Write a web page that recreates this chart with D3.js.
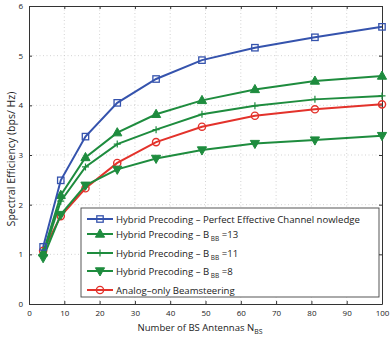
<!DOCTYPE html>
<html><head><meta charset="utf-8">
<script src="https://cdn.jsdelivr.net/npm/d3@7"></script>
<style>body{margin:0;background:#fff}svg{display:block}text{font-family:"Open Sans",sans-serif}</style>
</head><body>
<svg id="c" width="390" height="345"></svg>
<script>
const antennas = [4, 9, 16, 25, 36, 49, 64, 81, 100];
const perfectCSI = [1.15, 2.49, 3.37, 4.05, 4.53, 4.91, 5.16, 5.37, 5.58];
const bbb13 = [1.03, 2.19, 2.95, 3.45, 3.82, 4.1, 4.32, 4.49, 4.59];
const bbb11 = [0.99, 2.07, 2.76, 3.22, 3.51, 3.82, 3.99, 4.12, 4.19];
const bbb8 = [0.93, 1.8, 2.39, 2.71, 2.93, 3.1, 3.23, 3.3, 3.39];
const analogOnly = [1.07, 1.77, 2.33, 2.84, 3.26, 3.57, 3.79, 3.92, 4.02];
const xTicks = [0, 10, 20, 30, 40, 50, 60, 70, 80, 90, 100];
const yTicks = [0, 1, 2, 3, 4, 5, 6];

const series = [
  {name: "Hybrid Precoding \u2013 Perfect Effective Channel nowledge", vals: perfectCSI, color: "#3553ad", marker: "square"},
  {name: "Hybrid Precoding \u2013 B", sub: "BB", tail: " =13", vals: bbb13, color: "#1e8c3e", marker: "up"},
  {name: "Hybrid Precoding \u2013 B", sub: "BB", tail: " =11", vals: bbb11, color: "#1e8c3e", marker: "plus"},
  {name: "Hybrid Precoding \u2013 B", sub: "BB", tail: " =8", vals: bbb8, color: "#1e8c3e", marker: "down"},
  {name: "Analog\u2013only Beamsteering", vals: analogOnly, color: "#e3322b", marker: "circle"}
];

const svg = d3.select("#c");
const L = 29, R = 382, T = 6, B = 304;
const x = d3.scaleLinear().domain([0, 100]).range([L, R]);
const y = d3.scaleLinear().domain([0, 6]).range([B, T]);

// fit font size so text spans target width
function fitSize(sel, target, base) {
  const w = sel.node().getComputedTextLength();
  return base * target / w;
}

// grid
const g = svg.append("g");
g.selectAll(".gx").data(xTicks.slice(1, -1)).join("line")
  .attr("x1", d => x(d)).attr("x2", d => x(d)).attr("y1", T).attr("y2", B)
  .attr("stroke", "#c8c8c8").attr("stroke-width", 0.8).attr("stroke-dasharray", "1,2.5");
g.selectAll(".gy").data(yTicks.slice(1, -1)).join("line")
  .attr("y1", d => y(d)).attr("y2", d => y(d)).attr("x1", L).attr("x2", R)
  .attr("stroke", "#c8c8c8").attr("stroke-width", 0.8).attr("stroke-dasharray", "1,2.5");

// axes
const fmt = d3.format("d");
const ax = svg.append("g").attr("transform", `translate(0,${B})`)
  .call(d3.axisBottom(x).tickValues(xTicks).tickFormat(fmt).tickSizeInner(-3).tickSizeOuter(0).tickPadding(6));
const axT = svg.append("g").attr("transform", `translate(0,${T})`)
  .call(d3.axisTop(x).tickValues(xTicks).tickSizeInner(-3).tickSizeOuter(0).tickFormat(""));
const ay = svg.append("g").attr("transform", `translate(${L},0)`)
  .call(d3.axisLeft(y).tickValues(yTicks).tickFormat(fmt).tickSizeInner(-3).tickSizeOuter(0).tickPadding(6));
const ayR = svg.append("g").attr("transform", `translate(${R},0)`)
  .call(d3.axisRight(y).tickValues(yTicks).tickSizeInner(-3).tickSizeOuter(0).tickFormat(""));
[ax, axT, ay, ayR].forEach(a => {
  a.select(".domain").attr("stroke", "#333").attr("stroke-width", 1);
  a.selectAll(".tick line").attr("stroke", "#333");
  a.selectAll("text").attr("font-family", "'Open Sans',sans-serif").attr("font-size", 8).attr("fill", "#222");
});

// labels
const xl = svg.append("text").attr("x", 200).attr("y", 331).attr("text-anchor", "middle")
  .attr("font-size", 10).attr("fill", "#222");
xl.append("tspan").text("Number of BS Antennas N");
xl.append("tspan").attr("font-size", "0.72em").attr("dy", 3).text("BS");
xl.attr("font-size", fitSize(xl, 125, 10));

const yl = svg.append("text").attr("transform", "translate(15,159) rotate(-90)").attr("text-anchor", "middle")
  .attr("font-size", 10).attr("fill", "#222").text("Spectral Efficiency (bps/ Hz)");
yl.attr("font-size", fitSize(yl, 135, 10));

function drawMarker(sel, type, color, cx, cy) {
  if (type === "square") {
    sel.append("rect").attr("x", cx - 3.2).attr("y", cy - 3.2).attr("width", 6.4).attr("height", 6.4)
      .attr("fill", "none").attr("stroke", color).attr("stroke-width", 1.3);
  } else if (type === "circle") {
    sel.append("circle").attr("cx", cx).attr("cy", cy).attr("r", 3.6)
      .attr("fill", "none").attr("stroke", color).attr("stroke-width", 1.4);
  } else if (type === "up") {
    sel.append("path").attr("d", `M${cx},${cy - 5}L${cx + 4.6},${cy + 3.2}L${cx - 4.6},${cy + 3.2}Z`)
      .attr("fill", color).attr("stroke", color);
  } else if (type === "down") {
    sel.append("path").attr("d", `M${cx},${cy + 5}L${cx + 4.6},${cy - 3.2}L${cx - 4.6},${cy - 3.2}Z`)
      .attr("fill", color).attr("stroke", color);
  } else if (type === "plus") {
    sel.append("path").attr("d", `M${cx - 3.5},${cy}H${cx + 3.5}M${cx},${cy - 3.5}V${cy + 3.5}`)
      .attr("stroke", color).attr("stroke-width", 1.2);
  }
}

const line = d3.line().x((d, i) => x(antennas[i])).y(d => y(d));
const order = [4, 3, 2, 1, 0];
order.forEach(k => {
  const s = series[k];
  const sg = svg.append("g");
  sg.append("path").attr("d", line(s.vals)).attr("fill", "none").attr("stroke", s.color).attr("stroke-width", 2);
  s.vals.forEach((v, i) => drawMarker(sg, s.marker, s.color, x(antennas[i]), y(v)));
});

// legend
const lg = svg.append("g");
lg.append("rect").attr("x", 81).attr("y", 208).attr("width", 298).attr("height", 89)
  .attr("fill", "#fff").attr("stroke", "#444").attr("stroke-width", 0.9);
const ly = [219, 234, 253, 271, 290];
const texts = [];
series.forEach((s, i) => {
  lg.append("line").attr("x1", 87).attr("x2", 113).attr("y1", ly[i]).attr("y2", ly[i])
    .attr("stroke", s.color).attr("stroke-width", 2);
  drawMarker(lg, s.marker, s.color, 100, ly[i]);
  const t = lg.append("text").attr("x", 116).attr("y", ly[i] + 3.7).attr("font-size", 10).attr("fill", "#222");
  t.append("tspan").text(s.name);
  if (s.sub) {
    t.append("tspan").attr("font-size", "0.68em").attr("dy", 3).text(" " + s.sub);
    t.append("tspan").attr("dy", -3).text(s.tail);
  }
  texts.push(t);
});
const legSize = fitSize(texts[0], 244, 10);
texts.forEach(t => t.attr("font-size", legSize));
</script>
</body></html>
